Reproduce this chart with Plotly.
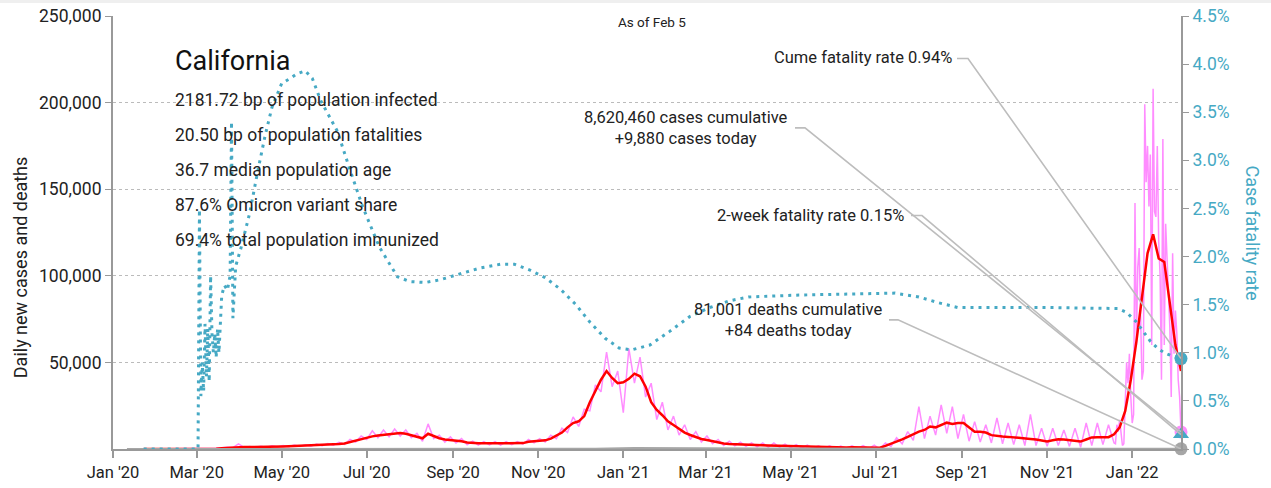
import pandas as pd
import plotly.graph_objects as go

FONT = "Roboto, Liberation Sans, Arial, sans-serif"
TEAL = "#46a9c4"
PINK = "#ff8cff"
RED = "#ff0000"
GRAY = "#a6a6a6"

# ---------------- data ----------------
# 4-day grid, ending on the "as of" date
grid_dates = pd.date_range(end="2022-02-05", periods=187, freq="4D")

# 7-day average of new cases (thousands)
cases_avg_k = [
    0, 0, 0, 0, 0, 0, 0, 0, 0, 0.01,
    0.02, 0.05, 0.1, 0.2, 0.45, 0.7, 0.9, 1.0, 1.1, 1.1,
    1.1, 1.2, 1.2, 1.3, 1.4, 1.5, 1.6, 1.7, 1.8, 1.9,
    2.0, 2.2, 2.4, 2.5, 2.7, 2.9, 3.2, 4.0, 5.0, 5.8,
    6.8, 7.3, 7.8, 8.2, 8.5, 9.0, 9.3, 8.8, 8.0, 6.8,
    6.2, 8.8, 7.5, 6.2, 5.5, 5.2, 4.9, 4.5, 3.8, 3.4,
    3.3, 3.3, 3.3, 3.3, 3.2, 3.2, 3.2, 3.3, 3.4, 4.2,
    4.6, 4.7, 5.0, 6.0, 7.8, 9.5, 12.5, 15.0, 16.0, 19.0,
    27, 34, 40, 45, 41, 38, 38.5, 40.5, 43.5, 42,
    36, 27, 22.5, 19.5, 16, 13.9, 11.5, 9.5, 8.1, 6.8,
    5.8, 5.2, 4.5, 3.8, 3.2, 2.9, 2.7, 2.5, 2.4, 2.3,
    2.2, 2.1, 2.0, 1.9, 1.8, 1.7, 1.6, 1.5, 1.4, 1.3,
    1.2, 1.1, 1.0, 1.0, 0.9, 0.9, 0.9, 1.0, 0.9, 1.0,
    1.0, 1.0, 0.7, 1.8, 2.9, 4.2, 5.5, 7.0, 8.7, 10,
    11, 13, 12.5, 13.8, 15.2, 14.5, 15.0, 15.0, 12.5, 10,
    10, 9.5, 8.0, 7.4, 7.2, 7.0, 6.8, 6.5, 6.2, 5.8,
    5.5, 4.8, 4.3, 5.0, 5.6, 5.5, 5.2, 5.0, 4.3, 5.5,
    6.7, 6.8, 6.8, 6.8, 8.5, 12.5, 22, 40, 62, 88,
    113, 124, 110, 108, 84, 60, 45,
]

# daily new cases (thousands): 4-day samples until Dec 19 2021, then daily
daily_dates = pd.date_range("2021-12-20", "2022-02-05", freq="D")
cases_daily_grid_k = [
    0, 0, 0, 0, 0, 0, 0, 0, 0, 0.02,
    0.05, 0.1, 0.2, 0.4, 0.7, 1.0, 0.8, 3.0, 0.9, 1.5,
    1.0, 1.6, 1.0, 1.9, 1.2, 2.0, 1.3, 2.3, 1.4, 2.5,
    1.6, 2.9, 1.9, 3.2, 2.2, 3.8, 2.6, 5.5, 4.0, 7.5,
    5.5, 10.5, 6.5, 11.0, 7.0, 11.5, 7.5, 11.0, 6.5, 9.0,
    4.5, 14.5, 6.0, 8.0, 4.0, 7.0, 3.5, 6.0, 2.5, 4.5,
    2.3, 4.3, 2.4, 4.3, 2.3, 4.2, 2.5, 4.3, 2.8, 5.5,
    3.5, 6.0, 4.0, 8.0, 6.0, 12.0, 9.5, 18.5, 13.0, 23,
    22, 37, 33, 56, 36, 45, 21, 58, 38, 53,
    30, 38, 17, 27, 11, 19, 8, 14, 5.5, 10,
    4, 7.5, 3, 5.5, 2, 4.5, 1.8, 4, 1.5, 3.5,
    1.2, 3.5, 1.0, 3.5, 1.0, 2.8, 0.8, 2.5, 0.6, 2.2,
    0.5, 1.8, 0.4, 1.8, 0.3, 1.7, 0.3, 1.8, 0.3, 2.0,
    0.2, 2.2, 0.0, 3.5, 1.5, 6.5, 3.0, 10, 5.0, 24.5,
    6.0, 19, 8.0, 25.5, 9.0, 24.5, 6.0, 20, 4.5, 15.8,
    4.0, 14, 3.5, 18, 3.0, 15, 2.5, 14, 2.0, 20,
    2.0, 12, 1.5, 12, 2.0, 11, 1.5, 12, 1.0, 15,
    2.0, 15, 2.5, 14, 3.5,
]
cases_daily_recent_k = [
    3.0, 14, 10, 16.8, 8, 2, 3, 28, 50, 38, 55, 30,
    15, 20, 142, 60, 105, 116, 80, 40, 45, 199, 154, 175, 140, 170, 60, 208,
    137, 134, 175, 120, 100, 40, 179, 60, 130, 113, 90, 70, 30, 113, 55,
    80, 67, 40, 30, 9.88,
]

# 7-day average of deaths (28-day samples)
deaths_dates = pd.date_range(end="2022-02-05", periods=28, freq="28D")
deaths_avg = [0, 0, 1, 60, 70, 65, 55, 130, 130, 90, 55, 50, 200, 520,
              450, 200, 70, 35, 25, 20, 30, 80, 100, 60, 40, 40, 80, 150]

# cumulative case fatality rate (%)
cfr_dates = [
    "2020-01-23", "2020-03-02", "2020-03-03", "2020-03-04", "2020-03-05", "2020-03-06",
    "2020-03-07", "2020-03-08", "2020-03-09", "2020-03-10", "2020-03-11", "2020-03-12",
    "2020-03-13", "2020-03-14", "2020-03-15", "2020-03-16", "2020-03-17", "2020-03-19",
    "2020-03-21", "2020-03-23", "2020-03-25", "2020-03-26", "2020-03-27", "2020-03-29",
    "2020-04-02", "2020-04-08", "2020-04-14", "2020-04-19", "2020-04-24", "2020-05-01",
    "2020-05-07", "2020-05-12", "2020-05-18", "2020-05-23", "2020-05-29", "2020-06-10",
    "2020-06-19", "2020-06-28", "2020-07-10", "2020-07-23", "2020-08-01", "2020-08-12",
    "2020-08-23", "2020-09-06", "2020-09-20", "2020-10-05", "2020-10-15", "2020-10-26",
    "2020-11-06", "2020-11-17", "2020-11-28", "2020-12-08", "2020-12-19", "2020-12-29",
    "2021-01-07", "2021-01-20", "2021-02-03", "2021-02-18", "2021-03-04", "2021-03-18",
    "2021-04-01", "2021-05-07", "2021-06-12", "2021-07-15", "2021-08-01", "2021-08-15",
    "2021-08-29", "2021-09-27", "2021-11-02", "2021-12-22", "2021-12-28", "2022-01-04",
    "2022-01-09", "2022-01-14", "2022-01-19", "2022-01-24", "2022-01-29", "2022-02-02",
    "2022-02-05",
]
cfr_pct = [
    0, 0, 2.49, 0.55, 0.9, 0.6,
    1.3, 0.75, 1.25, 0.7, 1.8, 1.2,
    1.0, 1.2, 0.95, 1.25, 1.0, 1.6,
    1.7, 1.65, 1.8, 3.4, 1.36, 1.9,
    2.1, 2.45, 2.9, 3.25, 3.55, 3.8,
    3.85, 3.9, 3.93, 3.85, 3.62, 3.3,
    2.9, 2.52, 2.1, 1.79, 1.74, 1.73,
    1.76, 1.82, 1.88, 1.92, 1.92, 1.86,
    1.78, 1.66, 1.5, 1.32, 1.15, 1.05,
    1.03, 1.08, 1.22, 1.38, 1.47, 1.54,
    1.58, 1.6, 1.61, 1.62, 1.58, 1.52,
    1.47, 1.47, 1.47, 1.46, 1.42, 1.32,
    1.22, 1.12, 1.05, 1.0, 0.97, 0.95,
    0.94,
]

# latest-day values
last_date = "2022-02-05"
cume_cfr_pct = 0.94
twoweek_cfr_pct = 0.15
cases_today = 9880
deaths_today = 84

stats_lines = [
    "2181.72 bp of population infected",
    "20.50 bp of population fatalities",
    "36.7 median population age",
    "87.6% Omicron variant share",
    "69.4% total population immunized",
]

# ---------------- figure ----------------
pink_x = list(grid_dates[:175]) + list(daily_dates)
pink_y = [v * 1000 for v in cases_daily_grid_k + cases_daily_recent_k]
red_y = [v * 1000 for v in cases_avg_k]

fig = go.Figure()
fig.add_trace(go.Scatter(x=pink_x, y=pink_y, mode="lines",
                         line=dict(color=PINK, width=1.5), hoverinfo="skip"))
fig.add_trace(go.Scatter(x=grid_dates, y=red_y, mode="lines",
                         line=dict(color=RED, width=2.5), hoverinfo="skip"))
fig.add_trace(go.Scatter(x=deaths_dates, y=deaths_avg, mode="lines",
                         line=dict(color=GRAY, width=2), hoverinfo="skip"))
fig.add_trace(go.Scatter(x=pd.to_datetime(cfr_dates), y=cfr_pct, mode="lines", yaxis="y2",
                         line=dict(color=TEAL, width=3, dash="3px,5px"), hoverinfo="skip"))

# end markers
fig.add_trace(go.Scatter(x=[last_date], y=[cases_today], mode="markers",
                         marker=dict(color=PINK, size=13), cliponaxis=False, hoverinfo="skip"))
fig.add_trace(go.Scatter(x=[last_date], y=[deaths_today], mode="markers",
                         marker=dict(color=GRAY, size=13), cliponaxis=False, hoverinfo="skip"))
fig.add_trace(go.Scatter(x=[last_date], y=[cume_cfr_pct], mode="markers", yaxis="y2",
                         marker=dict(color=TEAL, size=13), cliponaxis=False, hoverinfo="skip"))
fig.add_trace(go.Scatter(x=[last_date], y=[twoweek_cfr_pct], mode="markers", yaxis="y2",
                         marker=dict(color=TEAL, size=14, symbol="triangle-up"),
                         cliponaxis=False, hoverinfo="skip"))

# leader lines (pixel offsets relative to each end marker)
leaders = [
    # (yref, y value, elbow dx, dy, text-end dx)
    ("y2", cume_cfr_pct, -213, 300, -224),
    ("y", cases_today, -376, 304, -386),
    ("y2", twoweek_cfr_pct, -259, 219, -270),
    ("y", deaths_today, -283, 129, -292),
]
shapes = []
for yref, yv, ex, ey, tx in leaders:
    shapes.append(dict(type="path", xref="x", yref=yref, xsizemode="pixel", ysizemode="pixel",
                       xanchor=last_date, yanchor=yv,
                       path=f"M0,0 L{ex},{ey} L{tx},{ey}",
                       line=dict(color="#bdbdbd", width=1.6), layer="above"))
# thin gray strip at the very top of the page
shapes.append(dict(type="rect", xref="paper", yref="paper", x0=-0.2, x1=1.2, y0=1.0298, y1=1.06,
                   fillcolor="#efefef", line=dict(width=0), layer="below"))

annotations = [
    dict(text="As of Feb 5", xref="paper", yref="paper", x=0.505, y=0.986,
         showarrow=False, font=dict(size=13.5), xanchor="center", yanchor="middle"),
    dict(text="California", xref="paper", yref="paper", x=0.0562, y=0.897,
         showarrow=False, font=dict(size=27, color="#111"), xanchor="left", yanchor="middle"),
    dict(text="Daily new cases and deaths", xref="paper", yref="paper", x=-0.087, y=0.42,
         showarrow=False, textangle=-90, font=dict(size=18), xanchor="center", yanchor="middle"),
    dict(text="Case fatality rate", xref="paper", yref="paper", x=1.0665, y=0.5,
         showarrow=False, textangle=90, font=dict(size=18, color=TEAL),
         xanchor="center", yanchor="middle"),
    dict(text="Cume fatality rate 0.94%", xref="x", yref="y2", x=last_date, y=cume_cfr_pct,
         xshift=-227, yshift=301, showarrow=False, font=dict(size=16.5),
         xanchor="right", yanchor="middle"),
    dict(text="8,620,460 cases cumulative<br>+9,880 cases today", xref="x", yref="y",
         x=last_date, y=cases_today, xshift=-391, yshift=304, showarrow=False,
         font=dict(size=16.5), align="center", xanchor="right", yanchor="middle"),
    dict(text="2-week fatality rate 0.15%", xref="x", yref="y2", x=last_date, y=twoweek_cfr_pct,
         xshift=-275, yshift=219, showarrow=False, font=dict(size=16.5),
         xanchor="right", yanchor="middle"),
    dict(text="81,001 deaths cumulative<br>+84 deaths today", xref="x", yref="y",
         x=last_date, y=deaths_today, xshift=-297, yshift=129, showarrow=False,
         font=dict(size=16.5), align="center", xanchor="right", yanchor="middle"),
]
stat_y = [0.806, 0.725, 0.644, 0.564, 0.483]
for line, yy in zip(stats_lines, stat_y):
    annotations.append(dict(text=line, xref="paper", yref="paper", x=0.0562, y=yy,
                            showarrow=False, font=dict(size=17.5), xanchor="left", yanchor="middle"))

fig.update_layout(
    width=1271, height=488,
    margin=dict(l=113, r=90, t=16, b=39, autoexpand=False),
    paper_bgcolor="white", plot_bgcolor="white",
    font=dict(family=FONT, size=16, color="#222"),
    showlegend=False,
    hovermode=False,
    xaxis=dict(type="date", range=["2020-01-01", last_date], dtick="M2", tick0="2020-01-01",
               tickformat="%b '%y", showgrid=False, showline=True, linecolor="#999",
               linewidth=2, ticks="outside", ticklen=7, tickcolor="#999", tickwidth=1.5,
               tickfont=dict(size=16.5), zeroline=False, automargin=False),
    yaxis=dict(range=[0, 250000], tickvals=[50000, 100000, 150000, 200000, 250000],
               tickformat=",", showgrid=True, gridcolor="#bbbbbb", griddash="dot", gridwidth=1,
               showline=True, linecolor="#999", linewidth=2, ticks="outside", ticklen=6,
               tickcolor="#999", tickfont=dict(size=17.5), zeroline=False, automargin=False),
    yaxis2=dict(overlaying="y", side="right", range=[0, 4.5], dtick=0.5, tickformat=".1f",
                ticksuffix="%", showgrid=False, showline=True, linecolor="#999", linewidth=2,
                ticks="outside", ticklen=6, tickcolor="#999",
                tickfont=dict(size=17.5, color=TEAL), zeroline=False, automargin=False),
    shapes=shapes,
    annotations=annotations,
)

fig.write_html("out.html", config={"displayModeBar": False},
               post_script="document.body.style.margin='0';")
